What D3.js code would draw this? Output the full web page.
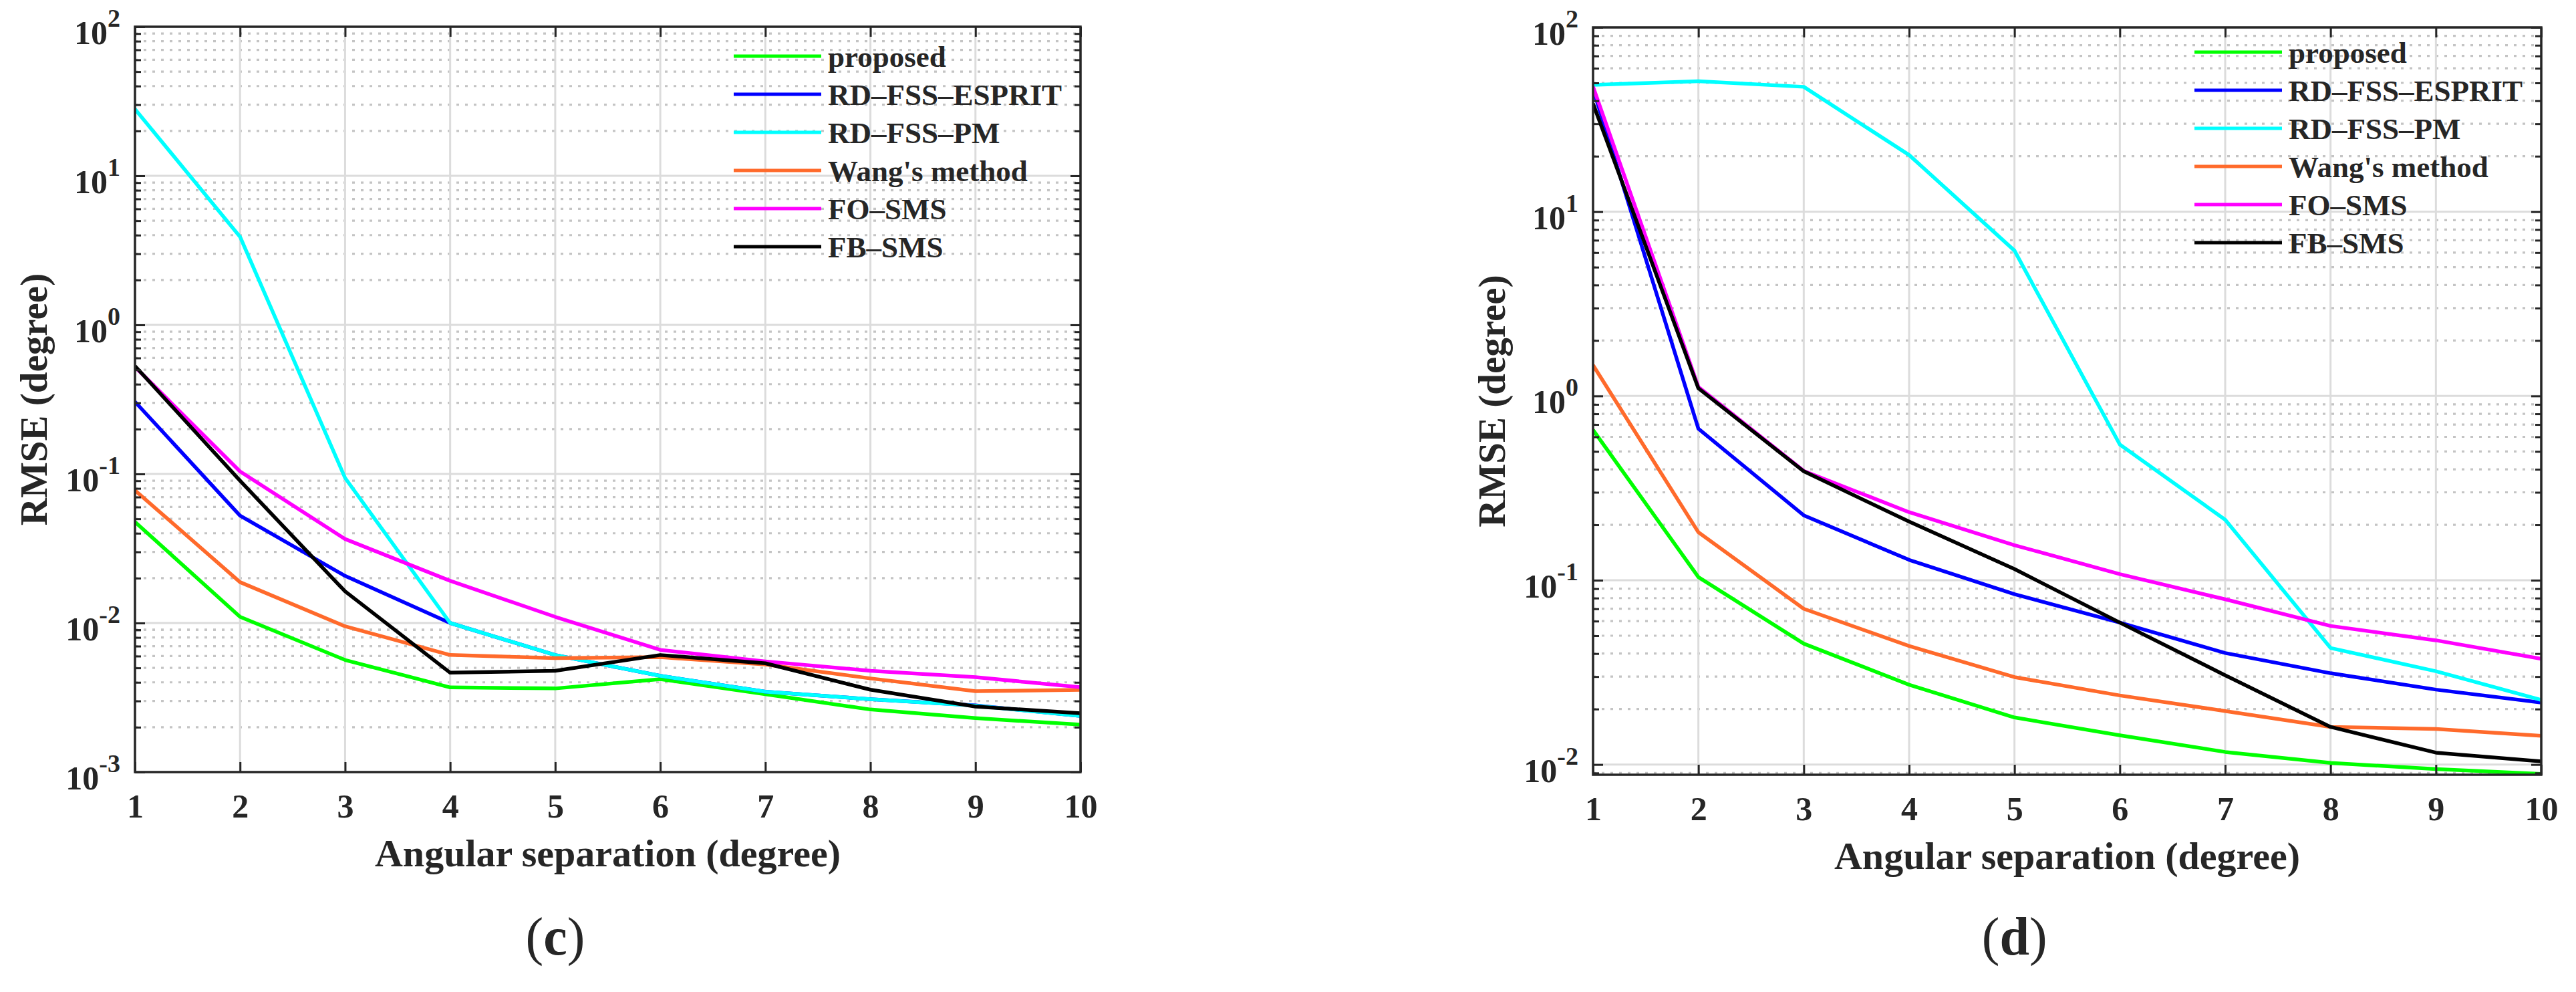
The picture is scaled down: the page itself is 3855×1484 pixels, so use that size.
<!DOCTYPE html>
<html>
<head>
<meta charset="utf-8">
<script src="https://cdn.jsdelivr.net/npm/d3@7/dist/d3.min.js"></script>
<style>
  body { margin: 0; background: #fff; }
  text { font-family: "Liberation Serif", "Times New Roman", serif; fill: #262626; }
</style>
</head>
<body>
<div class="chart"></div>
<script>
// x values shared by both panels (angular separation, degree)
const xValues = [1, 2, 3, 4, 5, 6, 7, 8, 9, 10];

const methodNames = ['proposed', 'RD\u2013FSS\u2013ESPRIT', 'RD\u2013FSS\u2013PM', "Wang's method", 'FO\u2013SMS', 'FB\u2013SMS'];
const methodColors = ['#00ff00', '#0000ff', '#00ffff', '#ff6a2b', '#ff00ff', '#000000'];

// panel (c) RMSE values
const cProposed = [0.0477, 0.011, 0.00565, 0.0037, 0.00364, 0.0042, 0.00333, 0.00263, 0.0023, 0.00208];
const cEsprit   = [0.305, 0.0525, 0.0207, 0.01, 0.0061, 0.00442, 0.00346, 0.00308, 0.0028, 0.00238];
const cPm       = [28, 3.9, 0.094, 0.01, 0.0061, 0.00442, 0.00346, 0.00308, 0.00279, 0.00238];
const cWang     = [0.0776, 0.0188, 0.0095, 0.0061, 0.00582, 0.0059, 0.00527, 0.00425, 0.00349, 0.00356];
const cFoSms    = [0.523, 0.104, 0.0366, 0.0192, 0.011, 0.0066, 0.00553, 0.00478, 0.00433, 0.00371];
const cFbSms    = [0.53, 0.09, 0.0163, 0.00464, 0.00478, 0.0061, 0.00537, 0.00357, 0.00275, 0.00248];

// panel (d) RMSE values
const dProposed = [0.654, 0.104, 0.0453, 0.0271, 0.018, 0.0144, 0.0117, 0.0102, 0.00944, 0.0089];
const dEsprit   = [46.4, 0.664, 0.225, 0.129, 0.084, 0.0589, 0.0403, 0.0313, 0.0255, 0.0217];
const dPm       = [48.8, 51.1, 47.6, 20.3, 6.15, 0.545, 0.213, 0.0429, 0.0321, 0.0224];
const dWang     = [1.47, 0.182, 0.07, 0.044, 0.0298, 0.0237, 0.0195, 0.016, 0.0156, 0.0143];
const dFoSms    = [47.7, 1.12, 0.392, 0.234, 0.155, 0.108, 0.0788, 0.0565, 0.0472, 0.0375];
const dFbSms    = [38.6, 1.1, 0.39, 0.208, 0.115, 0.0589, 0.0305, 0.016, 0.0116, 0.0104];

const cDecades = [-3, -2, -1, 0, 1, 2];
const dDecades = [-2, -1, 0, 1, 2];

const svg = d3.select('.chart')
  .append('svg')
  .attr('width', 3855)
  .attr('height', 1484);

function panel(id, box, yDomain, decades, series, legendTop, tag) {
  const x = d3.scaleLinear().domain([1, 10]).range([box.left, box.right]);
  const y = d3.scaleLog().domain(yDomain).range([box.bottom, box.top]);

  const g = svg.append('g');

  // minor / major values for the log axis
  let majors = [];
  let minors = [];
  decades.forEach(p => {
    const base = Math.pow(10, p);
    if (base >= yDomain[0] - 1e-12 && base <= yDomain[1] + 1e-9) majors.push(base);
    for (let m = 2; m <= 9; m++) {
      const v = m * base;
      if (v >= yDomain[0] && v <= yDomain[1]) minors.push(v);
    }
  });
  // 0.009 in panel d lies below 10^-2
  if (yDomain[0] < 0.009) minors.push(0.009);

  //grid
  g.selectAll('.minor-grid')
    .data(minors)
    .enter()
    .append('line')
    .attr('x1', box.left).attr('x2', box.right)
    .attr('y1', d => y(d)).attr('y2', d => y(d))
    .attr('stroke', '#c4c4c4')
    .attr('stroke-width', 3.2)
    .attr('stroke-dasharray', '4 9');

  g.selectAll('.major-grid')
    .data(majors)
    .enter()
    .append('line')
    .attr('x1', box.left).attr('x2', box.right)
    .attr('y1', d => y(d)).attr('y2', d => y(d))
    .attr('stroke', '#dcdcdc')
    .attr('stroke-width', 3);

  g.selectAll('.x-grid')
    .data(xValues)
    .enter()
    .append('line')
    .attr('x1', d => x(d)).attr('x2', d => x(d))
    .attr('y1', box.top).attr('y2', box.bottom)
    .attr('stroke', '#dcdcdc')
    .attr('stroke-width', 3);

  // data lines
  g.append('clipPath')
    .attr('id', 'clip-' + id)
    .append('rect')
    .attr('x', box.left).attr('y', box.top)
    .attr('width', box.right - box.left)
    .attr('height', box.bottom - box.top);

  const line = d3.line()
    .x((d, i) => x(xValues[i]))
    .y(d => y(d));

  series.forEach((s, i) => {
    g.append('path')
      .datum(s)
      .attr('clip-path', 'url(#clip-' + id + ')')
      .attr('fill', 'none')
      .attr('stroke', methodColors[i])
      .attr('stroke-width', 5.5)
      .attr('stroke-linejoin', 'round')
      .attr('d', line);
  });

  // axes: ticks point inward on every side
  const tickStyle = sel => {
    sel.select('.domain').remove();
    sel.selectAll('.tick line').attr('stroke', '#262626').attr('stroke-width', 3);
  };

  g.append('g')
    .attr('transform', `translate(0,${box.bottom})`)
    .call(d3.axisBottom(x).tickValues(xValues).tickSize(-15).tickPadding(32).tickFormat(d3.format('d')))
    .call(tickStyle)
    .selectAll('text')
    .style('font-size', '50px')
    .style('font-weight', 'bold')
    .attr('fill', '#262626');

  g.append('g')
    .attr('transform', `translate(0,${box.top})`)
    .call(d3.axisTop(x).tickValues(xValues).tickSize(-15).tickFormat(''))
    .call(tickStyle);

  g.append('g')
    .attr('transform', `translate(${box.left},0)`)
    .call(d3.axisLeft(y).tickValues(minors).tickSize(-9).tickFormat(''))
    .call(tickStyle);
  g.append('g')
    .attr('transform', `translate(${box.left},0)`)
    .call(d3.axisLeft(y).tickValues(majors).tickSize(-15).tickFormat(''))
    .call(tickStyle);
  g.append('g')
    .attr('transform', `translate(${box.right},0)`)
    .call(d3.axisRight(y).tickValues(minors).tickSize(-9).tickFormat(''))
    .call(tickStyle);
  g.append('g')
    .attr('transform', `translate(${box.right},0)`)
    .call(d3.axisRight(y).tickValues(majors).tickSize(-15).tickFormat(''))
    .call(tickStyle);

  // y tick labels as 10 with superscript exponent
  const lab = g.selectAll('.ylab')
    .data(majors)
    .enter()
    .append('text')
    .attr('x', box.left - 22)
    .attr('y', d => y(d) + 26)
    .attr('text-anchor', 'end')
    .style('font-weight', 'bold');
  lab.append('tspan').style('font-size', '50px').text('10');
  lab.append('tspan')
    .attr('dy', -26)
    .style('font-size', '38px')
    .text(d => Math.round(Math.log10(d)));

  // box
  g.append('rect')
    .attr('x', box.left).attr('y', box.top)
    .attr('width', box.right - box.left)
    .attr('height', box.bottom - box.top)
    .attr('fill', 'none')
    .attr('stroke', '#262626')
    .attr('stroke-width', 3.5);

  // axis titles
  g.append('text')
    .attr('x', (box.left + box.right) / 2)
    .attr('y', box.bottom + 141)
    .attr('text-anchor', 'middle')
    .style('font-size', '58px')
    .style('font-weight', 'bold')
    .text('Angular separation (degree)');

  g.append('text')
    .attr('transform', `translate(${box.left - 132},${(box.top + box.bottom) / 2}) rotate(-90)`)
    .attr('text-anchor', 'middle')
    .style('font-size', '57px')
    .style('font-weight', 'bold')
    .text('RMSE (degree)');

  // sub-figure tag
  const t = g.append('text')
    .attr('x', x(5))
    .attr('y', 1428)
    .attr('text-anchor', 'middle')
    .style('font-size', '80px');
  t.append('tspan').text('(');
  t.append('tspan').style('font-weight', 'bold').text(tag);
  t.append('tspan').text(')');

  // legend, no frame
  const leg = g.append('g')
    .attr('transform', `translate(${box.right - 519},${legendTop})`);
  methodNames.forEach((name, i) => {
    leg.append('line')
      .attr('x1', 0).attr('x2', 131)
      .attr('y1', i * 57).attr('y2', i * 57)
      .attr('stroke', methodColors[i])
      .attr('stroke-width', 5);
    leg.append('text')
      .attr('x', 141)
      .attr('y', i * 57 + 16)
      .style('font-size', '45px')
      .style('font-weight', 'bold')
      .attr('fill', '#000')
      .text(name);
  });
}

panel('c', { left: 202, right: 1617, top: 40, bottom: 1155 }, [1e-3, 100], cDecades,
  [cProposed, cEsprit, cPm, cWang, cFoSms, cFbSms], 84, 'c');

panel('d', { left: 2384, right: 3803, top: 41, bottom: 1159 }, [0.0088, 100], dDecades,
  [dProposed, dEsprit, dPm, dWang, dFoSms, dFbSms], 78, 'd');
</script>
</body>
</html>
